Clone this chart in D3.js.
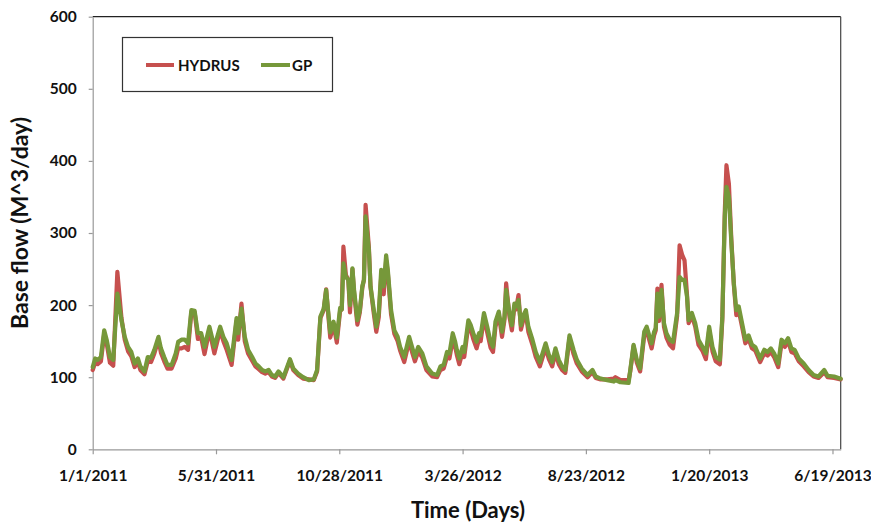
<!DOCTYPE html>
<html><head><meta charset="utf-8">
<script src="https://cdn.jsdelivr.net/npm/d3@7"></script>
<style>body{margin:0;background:#fff}svg{display:block}</style>
</head><body>
<script>
// Day offsets from 1/1/2011
const days = [0,3,6,10,14,17,21,25,30,35,39,43,47,51,55,58,63,67,71,75,80,83,87,91,96,101,104,108,112,116,120,124,128,132,136,142,148,155,159,163,169,175,177,181,185,189,194,198,202,206,210,214,218,222,226,232,240,244,250,256,263,269,273,277,281,284,287,289,293,297,301,303,305,308,311,313,316,318,322,325,328,330,332,336,338,342,345,348,351,354,357,359,363,367,371,374,379,385,389,392,396,401,406,413,419,423,427,431,434,438,441,443,446,450,452,457,460,463,467,470,472,476,480,484,487,490,494,498,501,503,507,510,513,515,518,521,524,527,530,535,539,544,551,555,559,563,567,571,575,580,585,589,595,602,608,612,618,626,634,636,642,652,654,658,662,666,671,674,677,680,683,685,687,689,692,695,698,702,706,711,714,717,720,723,725,729,733,737,742,746,750,754,758,763,766,769,771,774,777,780,783,786,790,794,798,802,806,812,817,821,825,829,834,838,842,846,850,854,859,865,871,877,883,890,894,902,910];
const gp = [114,126,124,128,165,152,128,124,216,179,156,142,135,119,126,115,108,128,127,138,156,140,128,117,117,133,149,152,152,147,193,192,161,161,142,170,142,170,156,147,124,182,161,195,156,138,128,119,115,110,108,110,103,101,108,100,125,112,105,100,96,97,110,184,195,221,185,162,177,155,196,194,258,239,235,200,251,221,179,193,226,235,323,276,226,193,170,189,249,226,269,249,193,165,156,142,128,156,140,128,142,133,115,105,103,115,117,135,133,161,149,138,126,142,135,179,172,161,149,161,158,189,170,149,142,177,191,163,184,221,189,172,202,198,207,172,186,193,170,152,135,121,147,131,121,140,124,115,110,158,138,124,112,103,110,101,98,96,94,96,93,92,110,145,124,112,163,170,158,147,163,168,216,184,221,175,161,152,149,189,239,235,235,212,179,189,175,152,142,133,170,142,128,124,184,323,364,350,286,230,193,198,175,152,158,145,142,126,138,135,140,133,119,152,147,154,140,138,126,119,110,103,101,110,102,101,98];
const hydrus = [110,120,118,122,160,147,120,116,246,182,152,136,129,114,121,110,104,122,121,133,152,134,122,112,112,126,140,140,142,138,190,190,153,155,132,165,133,165,150,138,117,178,152,202,150,133,123,115,111,107,105,107,101,99,106,98,123,110,103,98,97,96,108,182,193,222,181,155,173,148,192,194,281,242,235,190,250,217,173,190,224,235,339,280,225,188,163,183,240,215,262,245,187,160,150,137,121,150,133,122,136,127,110,101,100,110,112,128,126,152,142,131,118,135,128,172,166,153,140,153,150,183,162,141,135,170,187,156,180,230,184,165,198,194,214,166,180,188,163,145,128,115,141,125,115,134,118,110,106,154,132,119,108,100,107,99,97,97,98,100,96,96,108,143,120,108,158,165,152,140,158,165,223,178,228,170,155,145,140,185,283,270,262,215,175,185,170,145,136,125,165,136,122,118,180,330,394,368,290,228,186,192,170,147,153,140,137,121,133,130,135,128,114,147,142,150,135,133,122,115,107,101,99,107,100,99,97];
const yTicks = [0,100,200,300,400,500,600];
const xTickDays = [0,150,300,450,600,750,900];
const seriesNames = ["HYDRUS","GP"];
const colors = ["#C6504E","#76983A"];

const W = 871, H = 527;
const m = {left: 92.7, right: 871-840.7, top: 16.7, bottom: 527-449.3};
const start = new Date(2011,0,1);
const toDate = d => d3.timeDay.offset(start, d);

const svg = d3.select("body").append("svg").attr("width",W).attr("height",H);
const x = d3.scaleTime().domain([start, toDate(910)]).range([m.left, W-m.right]);
const y = d3.scaleLinear().domain([0,600]).range([H-m.bottom, m.top]);
const font = "Lato, 'Open Sans', sans-serif";

// frame top/right
svg.append("line").attr("x1",m.left).attr("x2",W-m.right).attr("y1",m.top).attr("y2",m.top).attr("stroke","#222").attr("stroke-width",1.2);
svg.append("line").attr("x1",W-m.right).attr("x2",W-m.right).attr("y1",m.top).attr("y2",H-m.bottom).attr("stroke","#444").attr("stroke-width",1.2);

// axes
const fmt = d => (d.getMonth()+1)+"/"+d.getDate()+"/"+d.getFullYear();
const xAxis = d3.axisBottom(x).tickValues(xTickDays.map(toDate)).tickFormat(fmt).tickSize(5).tickSizeOuter(0);
const gx = svg.append("g").attr("transform",`translate(0,${H-m.bottom})`).call(xAxis);
gx.select(".domain").attr("stroke","#999").attr("stroke-width",1.2);
gx.selectAll(".tick line").attr("stroke","#999").attr("stroke-width",1.2);
gx.selectAll("text").attr("font-family",font).attr("font-weight","bold").attr("font-size",15.5).attr("fill","#111").attr("dy","1.5em");

const yAxis = d3.axisLeft(y).tickValues(yTicks).tickSize(4).tickSizeOuter(0).tickPadding(12);
const gy = svg.append("g").attr("transform",`translate(${m.left},0)`).call(yAxis);
gy.select(".domain").attr("stroke","#999").attr("stroke-width",1.2);
gy.selectAll(".tick line").attr("stroke","#999").attr("stroke-width",1.2);
gy.selectAll("text").attr("font-family",font).attr("font-weight","bold").attr("font-size",15.5).attr("fill","#111");

// lines
const line = d3.line().x((d,i)=>x(toDate(days[i]))).y(d=>y(d));
[hydrus, gp].forEach((s,k)=>{
  svg.append("path").datum(s).attr("d",line).attr("fill","none")
    .attr("stroke",colors[k]).attr("stroke-width",4.2).attr("stroke-linejoin","round").attr("stroke-linecap","round");
});

// titles
svg.append("text").attr("x",468).attr("y",518).attr("text-anchor","middle")
  .attr("font-family",font).attr("font-weight","bold").attr("font-size",22).attr("fill","#111").text("Time (Days)");
svg.append("text").attr("transform","translate(28,223) rotate(-90)").attr("text-anchor","middle")
  .attr("font-family",font).attr("font-weight","bold").attr("font-size",23).attr("fill","#111").text("Base flow (M^3/day)");

// legend
const lg = svg.append("g");
lg.append("rect").attr("x",122.5).attr("y",37.5).attr("width",210).attr("height",54).attr("fill","#fff").attr("stroke","#333").attr("stroke-width",1.2);
const items = [{x1:146,x2:174,tx:178},{x1:261,x2:290,tx:292}];
items.forEach((it,k)=>{
  lg.append("line").attr("x1",it.x1).attr("x2",it.x2).attr("y1",65).attr("y2",65).attr("stroke",colors[k]).attr("stroke-width",4);
  lg.append("text").attr("x",it.tx).attr("y",70.5).attr("font-family",font).attr("font-weight","bold").attr("font-size",15).attr("fill","#111").text(seriesNames[k]);
});
</script>
</body></html>
